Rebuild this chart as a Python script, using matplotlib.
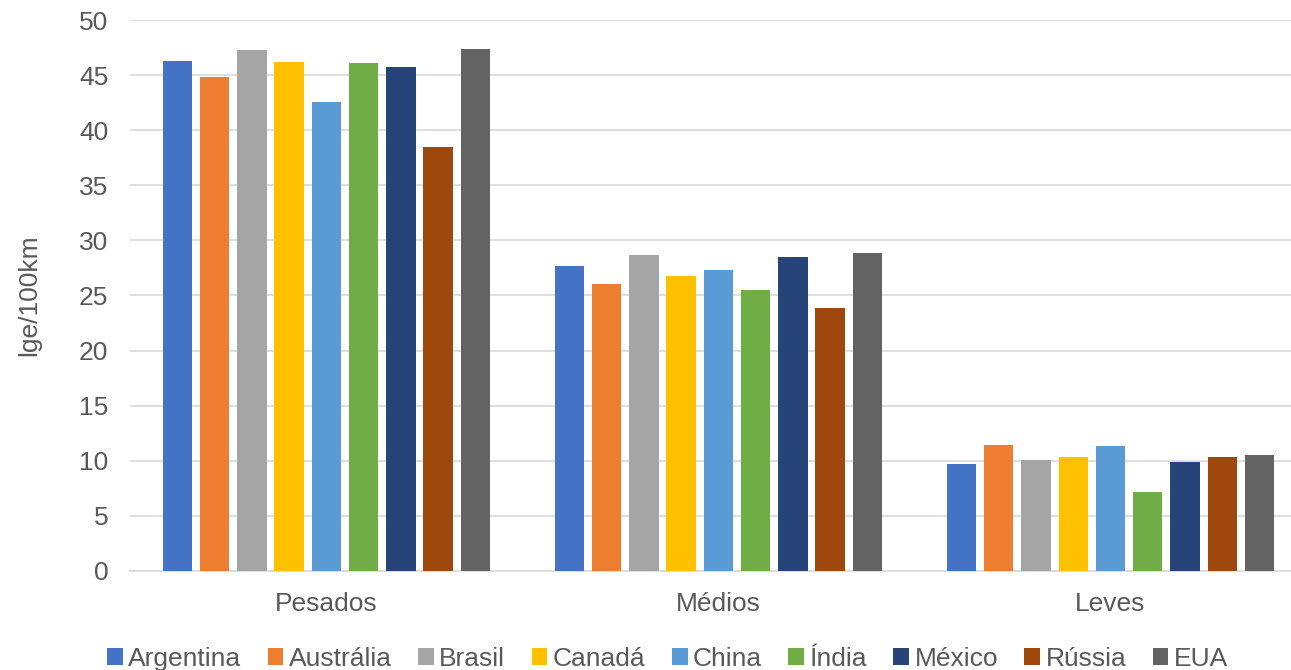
import numpy as np
import matplotlib
matplotlib.use("Agg")
from matplotlib import pyplot as plt

plt.rcParams["font.family"] = ["Liberation Sans", "DejaVu Sans"]

categories = ["Pesados", "Médios", "Leves"]
countries = ["Argentina", "Austrália", "Brasil", "Canadá", "China", "Índia", "México", "Rússia", "EUA"]
colors = ["#4472C4", "#ED7D31", "#A5A5A5", "#FFC000", "#5B9BD5", "#70AD47", "#264478", "#9E480E", "#636363"]

argentina = [46.3, 27.7, 9.7]
australia = [44.8, 26.0, 11.4]
brasil = [47.3, 28.7, 10.1]
canada = [46.2, 26.8, 10.3]
china = [42.6, 27.3, 11.3]
india = [46.1, 25.5, 7.2]
mexico = [45.7, 28.5, 9.9]
russia = [38.5, 23.9, 10.3]
eua = [47.4, 28.9, 10.5]

series = [argentina, australia, brasil, canada, china, india, mexico, russia, eua]

fig = plt.figure(figsize=(12.91, 6.70), dpi=100)
# plot area runs past the right edge of the picture, like the original crop
ax = fig.add_axes([0.101, 0.148, 0.911, 0.822])

x = np.arange(len(categories))
slot = 0.095
bar_w = 0.075
for i, (name, vals) in enumerate(zip(countries, series)):
    offset = (i - 4) * slot
    ax.bar(x + offset, vals, bar_w, color=colors[i], label=name, zorder=3)

ax.set_xlim(-0.5, 2.5)
ax.set_ylim(0, 50)
ax.set_yticks(range(0, 51, 5))
ax.set_xticks(x)
ax.set_xticklabels(categories)
ax.tick_params(axis="both", length=0, labelsize=19, colors="#595959")
ax.tick_params(axis="y", pad=16)
ax.tick_params(axis="x", pad=15)
ax.grid(axis="y", color="#D9D9D9", linewidth=1.2, zorder=0)
for side in ["top", "right", "left"]:
    ax.spines[side].set_visible(False)
ax.spines["bottom"].set_color("#D9D9D9")
ax.spines["bottom"].set_linewidth(1.2)
ax.set_ylabel("lge/100km", fontsize=19, color="#595959", labelpad=27)

leg = fig.legend(*ax.get_legend_handles_labels(), loc="center", bbox_to_anchor=(0.517, 0.017),
                 ncol=9, frameon=False, fontsize=19, handlelength=0.6, handleheight=0.6,
                 handletextpad=0.2, columnspacing=1.0)
for t in leg.get_texts():
    t.set_color("#595959")

fig.savefig("out.png", dpi=100)
